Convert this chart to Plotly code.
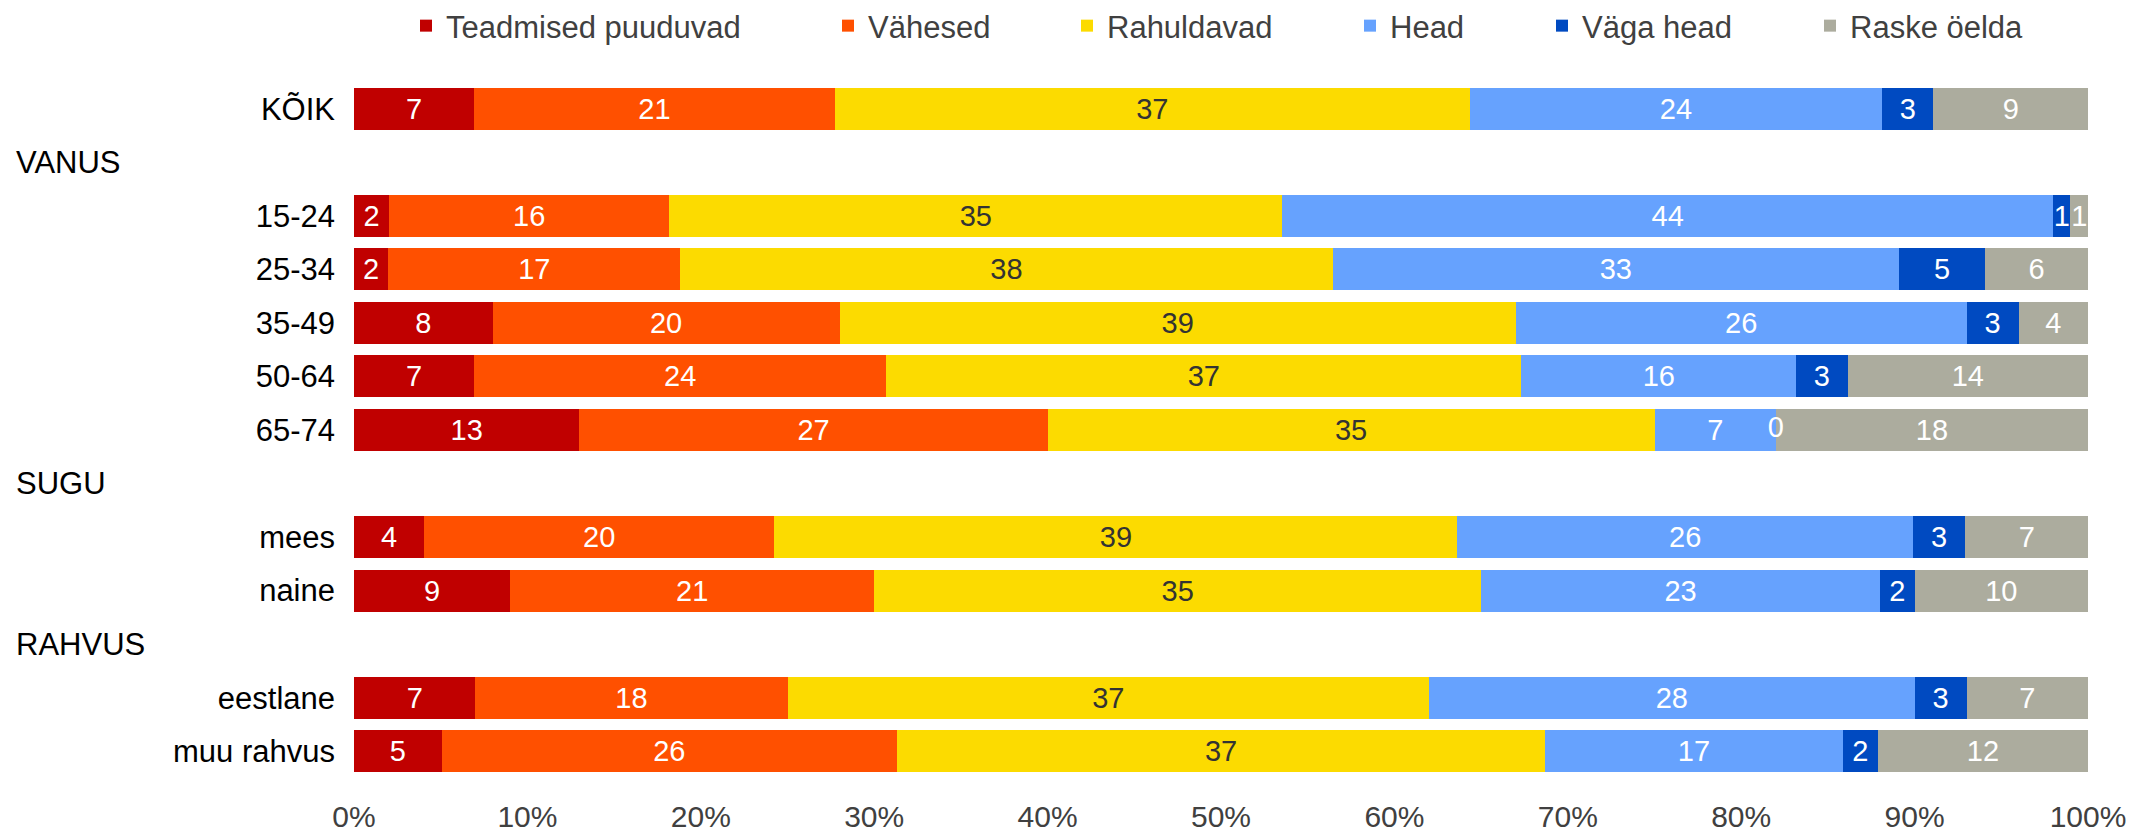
import plotly.graph_objects as go

# Rows from top to bottom; group headers carry no bars
rows = ["KÕIK", "VANUS", "15-24", "25-34", "35-49", "50-64", "65-74",
        "SUGU", "mees", "naine", "RAHVUS", "eestlane", "muu rahvus"]
group_headers = ["VANUS", "SUGU", "RAHVUS"]

series_names = ["Teadmised puuduvad", "Vähesed", "Rahuldavad", "Head", "Väga head", "Raske öelda"]

# Shares (%) per row, None for header rows
teadmised_puuduvad = [7, None, 2, 2, 8, 7, 13, None, 4, 9, None, 7, 5]
vahesed            = [21, None, 16, 17, 20, 24, 27, None, 20, 21, None, 18, 26]
rahuldavad         = [37, None, 35, 38, 39, 37, 35, None, 39, 35, None, 37, 37]
head               = [24, None, 44, 33, 26, 16, 7, None, 26, 23, None, 28, 17]
vaga_head          = [3, None, 1, 5, 3, 3, 0, None, 3, 2, None, 3, 2]
raske_oelda        = [9, None, 1, 6, 4, 14, 18, None, 7, 10, None, 7, 12]

x_ticks = [0, 10, 20, 30, 40, 50, 60, 70, 80, 90, 100]
x_tick_labels = [f"{t}%" for t in x_ticks]

series_values = [teadmised_puuduvad, vahesed, rahuldavad, head, vaga_head, raske_oelda]
colors = ["#C00000", "#FF5000", "#FCDB00", "#66A2FE", "#004AC1", "#ACAC9E"]
text_colors = ["#FFFFFF", "#FFFFFF", "#333333", "#FFFFFF", "#FFFFFF", "#FFFFFF"]

# Legend marker centres along the top (px)
legend_marker_px = [426, 848, 1087, 1370, 1562, 1830]

W, H = 2134, 832
ML, MR, MT, MB = 354, 46, 82, 54
FONT = "Liberation Sans, Arial, sans-serif"

fig = go.Figure()
for i, (name, vals) in enumerate(zip(series_names, series_values)):
    texts = ["" if (v is None or v == 0) else str(v) for v in vals]
    fig.add_trace(go.Bar(
        name=name,
        y=rows,
        x=vals,
        orientation="h",
        marker=dict(color=colors[i], line=dict(width=0)),
        text=texts,
        textposition="inside",
        insidetextanchor="middle",
        textangle=0,
        textfont=dict(family=FONT, size=29, color=text_colors[i]),
        legend="legend" if i == 0 else f"legend{i + 1}",
        hoverinfo="skip",
    ))

# Zero-width segments still get their label, placed at the segment's
# position inside the normalised stack
zero_x, zero_y, zero_txt, zero_col = [], [], [], []
for r, row in enumerate(rows):
    row_vals = [s[r] for s in series_values]
    if row_vals[0] is None:
        continue
    total = sum(row_vals)
    cum = 0
    for i, v in enumerate(row_vals):
        if v == 0:
            zero_x.append(cum / total * 100)
            zero_y.append(row)
            zero_txt.append(str(v))
            zero_col.append(text_colors[i])
        cum += v
fig.add_trace(go.Scatter(
    x=zero_x, y=zero_y, text=zero_txt, mode="text",
    textposition="middle center",
    textfont=dict(family=FONT, size=29, color=zero_col),
    showlegend=False, hoverinfo="skip", cliponaxis=False,
))

layout_legends = {}
for i, px in enumerate(legend_marker_px):
    key = "legend" if i == 0 else f"legend{i + 1}"
    layout_legends[key] = dict(
        xref="container", yref="container",
        x=(px - 20) / W, y=1 - 26 / H,
        xanchor="left", yanchor="middle",
        orientation="h",
        font=dict(family=FONT, size=31, color="#404040"),
        bgcolor="rgba(0,0,0,0)",
        borderwidth=0,
        visible=True,
    )

annotations = []
for hdr in group_headers:
    annotations.append(dict(
        xref="paper", yref="y",
        x=(14 - ML) / (W - ML - MR), y=hdr,
        xanchor="left", yanchor="middle",
        text=hdr, showarrow=False,
        font=dict(family=FONT, size=31, color="#000000"),
    ))

data_rows = [r for r in rows if r not in group_headers]

fig.update_layout(
    width=W, height=H,
    showlegend=True,
    barmode="stack",
    barnorm="percent",
    bargap=0.215,
    plot_bgcolor="white",
    paper_bgcolor="white",
    margin=dict(l=ML, r=MR, t=MT, b=MB, autoexpand=False),
    uniformtext=dict(minsize=29, mode="show"),
    annotations=annotations,
    xaxis=dict(
        range=[0, 100.0001],
        tickmode="array",
        tickvals=x_ticks,
        ticktext=x_tick_labels,
        showgrid=False, zeroline=False, showline=False,
        ticks="",
        ticklabelstandoff=18,
        tickfont=dict(family=FONT, size=30, color="#404040"),
        fixedrange=True,
    ),
    yaxis=dict(
        type="category",
        categoryorder="array",
        categoryarray=rows,
        range=[len(rows) - 0.5, -0.5],
        tickmode="array",
        tickvals=data_rows,
        ticktext=data_rows,
        showgrid=False, zeroline=False, showline=False,
        ticks="",
        ticklabelstandoff=18,
        tickfont=dict(family=FONT, size=31, color="#000000"),
        fixedrange=True,
    ),
    **layout_legends,
)

fig.write_html("out.html")
